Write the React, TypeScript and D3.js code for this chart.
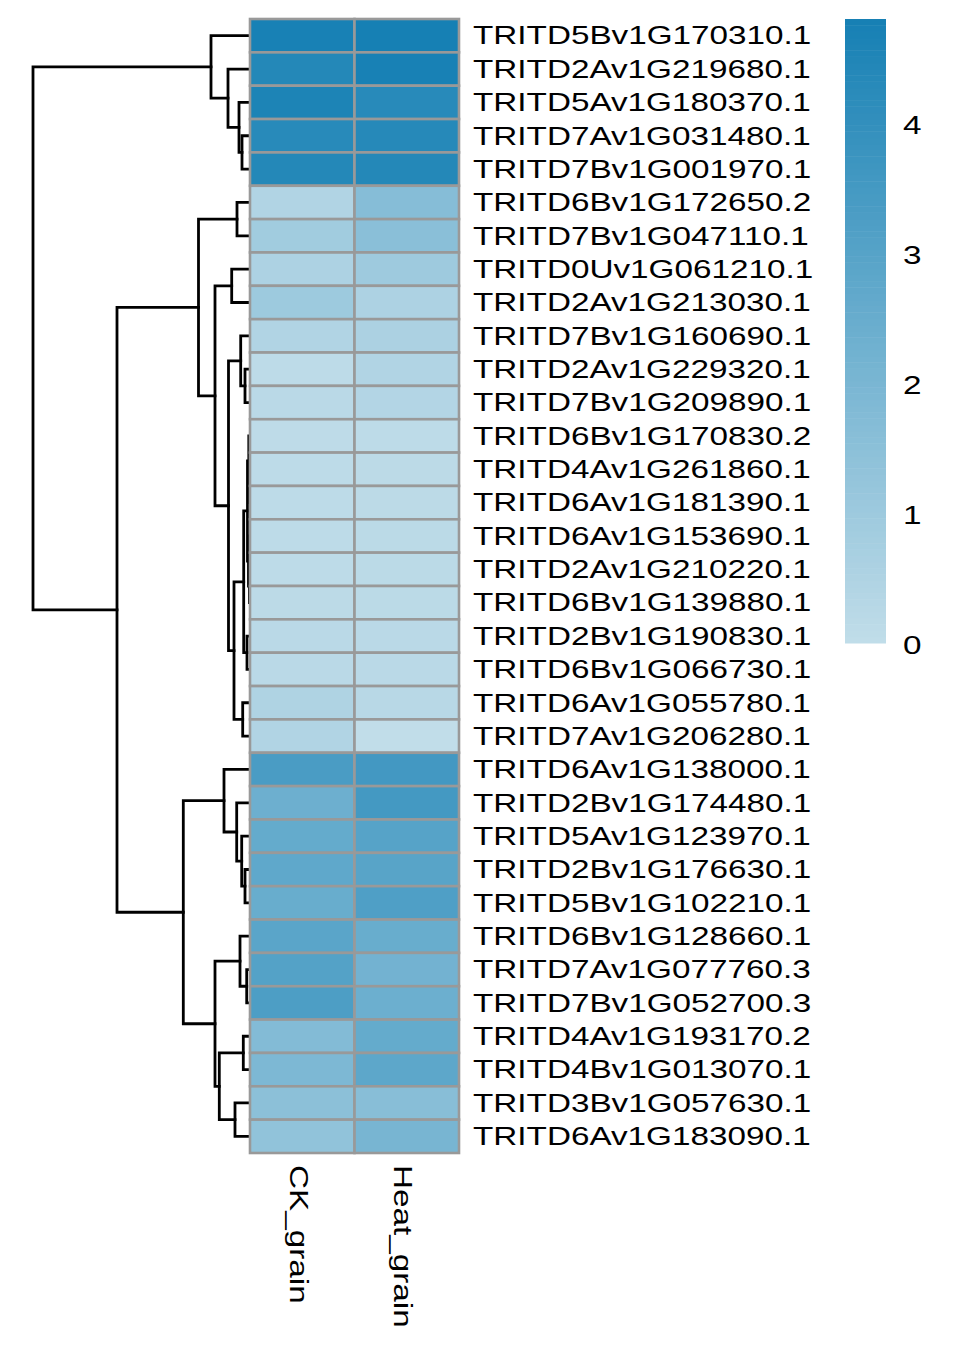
import { useMemo } from "react";
import * as d3 from "d3";

// row labels, top to bottom (dendrogram order)
const genes = [
  "TRITD5Bv1G170310.1", "TRITD2Av1G219680.1", "TRITD5Av1G180370.1", "TRITD7Av1G031480.1",
  "TRITD7Bv1G001970.1", "TRITD6Bv1G172650.2", "TRITD7Bv1G047110.1", "TRITD0Uv1G061210.1",
  "TRITD2Av1G213030.1", "TRITD7Bv1G160690.1", "TRITD2Av1G229320.1", "TRITD7Bv1G209890.1",
  "TRITD6Bv1G170830.2", "TRITD4Av1G261860.1", "TRITD6Av1G181390.1", "TRITD6Av1G153690.1",
  "TRITD2Av1G210220.1", "TRITD6Bv1G139880.1", "TRITD2Bv1G190830.1", "TRITD6Bv1G066730.1",
  "TRITD6Av1G055780.1", "TRITD7Av1G206280.1", "TRITD6Av1G138000.1", "TRITD2Bv1G174480.1",
  "TRITD5Av1G123970.1", "TRITD2Bv1G176630.1", "TRITD5Bv1G102210.1", "TRITD6Bv1G128660.1",
  "TRITD7Av1G077760.3", "TRITD7Bv1G052700.3", "TRITD4Av1G193170.2", "TRITD4Bv1G013070.1",
  "TRITD3Bv1G057630.1", "TRITD6Av1G183090.1",
];

const samples = ["CK_grain", "Heat_grain"];

const ckGrain = [
  4.75, 4.4, 4.6, 4.3, 4.4, 0.45, 0.9, 0.57, 1.0, 0.45, 0.1, 0.2,
  0.08, 0.1, 0.12, 0.1, 0.12, 0.15, 0.2, 0.2, 0.5, 0.45,
  3.35, 2.35, 2.6, 2.75, 2.5, 2.9, 3.05, 3.25, 1.75, 1.9, 1.5, 1.35,
];

const heatGrain = [
  4.8, 4.75, 4.3, 4.35, 4.4, 1.65, 1.55, 0.97, 0.57, 0.6, 0.45, 0.4,
  0.1, 0.15, 0.15, 0.17, 0.17, 0.17, 0.2, 0.2, 0.25, 0.0,
  3.55, 3.5, 3.0, 2.95, 3.2, 2.5, 2.2, 2.4, 2.6, 2.8, 1.6, 2.05,
];

const legendTicks = [0, 1, 2, 3, 4];

// row dendrogram: leaf = row index, node = [left, right, merge height]
type Tree = number | [Tree, Tree, number];

const topCluster: Tree = [0, [1, [2, [3, 4, 8], 11], 22], 39];
const midCluster: Tree = [
  [5, 6, 13],
  [
    [7, 8, 18.3],
    [
      [9, [10, 11, 5], 9.3],
      [
        [[[12, [13, 14, 0.5], 1.2], [15, [16, 17, 0.6], 1.5], 2.5], [18, 19, 3], 6.3],
        [20, 21, 7.3],
        16,
      ],
      21.5,
    ],
    35,
  ],
  51.5,
];
const lowCluster: Tree = [
  [22, [23, [24, [25, 26, 5], 8.3], 13.3], 26],
  [[27, [28, 29, 3.3], 10], [[30, 31, 6.7], [32, 33, 15], 30.7], 35],
  66.7,
];
const rowTree: Tree = [topCluster, [midCluster, lowCluster, 133], 217];

const W = 963;
const H = 1358;
const FONT = "'Liberation Sans', Arial, sans-serif";
const FS = 25.6;
const STRETCH = 1.3;

export default function App() {
  const y = d3.scaleBand<string>().domain(genes).range([19, 1153]);
  const x = d3.scaleBand<string>().domain(samples).range([250, 459]);
  const hx = d3.scaleLinear().domain([0, 217]).range([250, 33]);
  const color = d3.scaleLinear<string>().domain([0, 4.8]).range(["#c1dde9", "#1680b4"]);
  const legendY = d3.scaleLinear().domain([0, 4.8]).range([643, 19]);

  const cells = genes.flatMap((g, i) => [
    { g, s: samples[0], v: ckGrain[i] },
    { g, s: samples[1], v: heatGrain[i] },
  ]);

  const branches = useMemo(() => {
    const paths: string[] = [];
    const walk = (t: Tree): { yy: number; h: number } => {
      if (typeof t === "number") {
        return { yy: (y(genes[t]) ?? 0) + y.bandwidth() / 2, h: 0 };
      }
      const a = walk(t[0]);
      const b = walk(t[1]);
      const p = d3.path();
      p.moveTo(hx(a.h), a.yy);
      p.lineTo(hx(t[2]), a.yy);
      p.lineTo(hx(t[2]), b.yy);
      p.lineTo(hx(b.h), b.yy);
      paths.push(p.toString());
      return { yy: (a.yy + b.yy) / 2, h: t[2] };
    };
    walk(rowTree);
    return paths;
  }, []);

  const steps = d3.range(0, 100).map((k) => (k * 4.8) / 100);

  return (
    <div style={{ position: "absolute", left: 0, top: 0 }}>
      <svg width={W} height={H} style={{ display: "block", background: "#fff" }}>
        <g fill="none" stroke="#000" strokeWidth={2.8} strokeLinecap="square">
          {branches.map((d, i) => (
            <path key={i} d={d} />
          ))}
        </g>

        <g stroke="#999999" strokeWidth={2.6}>
          {cells.map((c, i) => (
            <rect
              key={i}
              x={x(c.s)}
              y={y(c.g)}
              width={x.bandwidth()}
              height={y.bandwidth()}
              fill={color(c.v)}
            />
          ))}
        </g>

        <g fontFamily={FONT} fontSize={FS} fill="#000">
          {genes.map((g) => (
            <text
              key={g}
              transform={`translate(473,${(y(g) ?? 0) + y.bandwidth() / 2 + 8.8}) scale(${STRETCH},1)`}
            >
              {g}
            </text>
          ))}
          {samples.map((s) => (
            <text
              key={s}
              transform={`translate(${(x(s) ?? 0) + x.bandwidth() / 2 - 12.5},1165) rotate(90) scale(${STRETCH},1)`}
            >
              {s}
            </text>
          ))}
        </g>

        <g>
          {steps.map((v, i) => (
            <rect
              key={i}
              x={845}
              y={legendY(v + 4.8 / 100)}
              width={41}
              height={legendY(v) - legendY(v + 4.8 / 100) + 0.5}
              fill={color(v + 2.4 / 100)}
            />
          ))}
        </g>
        <g fontFamily={FONT} fontSize={FS} fill="#000">
          {legendTicks.map((t) => (
            <text key={t} transform={`translate(903,${legendY(t) + 10.5}) scale(${STRETCH},1)`}>
              {t}
            </text>
          ))}
        </g>
      </svg>
    </div>
  );
}
